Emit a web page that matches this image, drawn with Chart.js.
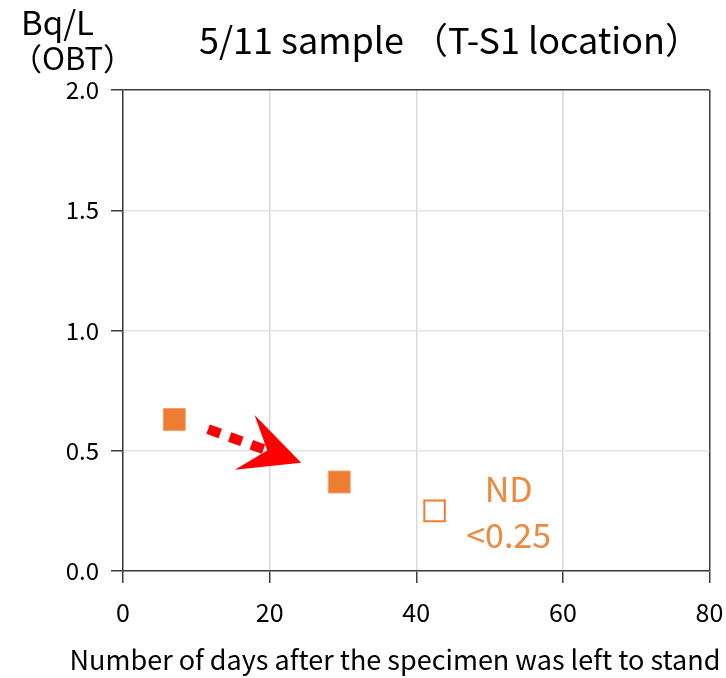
<!DOCTYPE html>
<html>
<head>
<meta charset="utf-8">
<script src="https://cdn.jsdelivr.net/npm/chart.js@4/dist/chart.umd.min.js"></script>
<style>
  html, body { margin: 0; padding: 0; background: #fff; }
  #wrap { width: 726px; height: 678px; position: relative; }
</style>
</head>
<body>
<div id="wrap"><canvas id="c" width="726" height="678"></canvas></div>
<script>
// ---- data ----
const titleText = "5/11 sample （T-S1 location）";
const yUnitLines = ["Bq/L", "（OBT）"];
const xAxisTitle = "Number of days after the specimen was left to stand";
const measuredDays = [7, 29.5];
const measuredValues = [0.63, 0.37];
const ndDays = [42.5];
const ndValues = [0.25];
const ndLabelLines = ["ND", "<0.25"];
const ndLabelPos = { x: 52.6, y: [0.34, 0.15] };
const arrowStart = { x: 11.6, y: 0.59 };
const arrowEnd = { x: 24.3, y: 0.45 };
const xMin = 0, xMax = 80, xStep = 20;
const yMin = 0, yMax = 2, yStep = 0.5;

const FONT = "'Noto Sans CJK JP', 'Noto Sans', sans-serif";
const ORANGE = '#ED7D31';
const AXIS = '#3c3c3c';

const overlay = {
  id: 'overlay',
  afterDatasetsDraw(chart) {
    const ctx = chart.ctx;
    const xs = chart.scales.x, ys = chart.scales.y;
    // arrow
    const sx = xs.getPixelForValue(arrowStart.x), sy = ys.getPixelForValue(arrowStart.y);
    const tx = xs.getPixelForValue(arrowEnd.x), ty = ys.getPixelForValue(arrowEnd.y);
    const ang = Math.atan2(ty - sy, tx - sx);
    const ux = Math.cos(ang), uy = Math.sin(ang), px = -uy, py = ux;
    const headLen = 60, halfW = 29, notch = 36;
    const nx = tx - ux * notch, ny = ty - uy * notch;
    ctx.save();
    ctx.strokeStyle = '#FF0000';
    ctx.lineWidth = 10;
    ctx.setLineDash([13, 10]);
    ctx.lineCap = 'butt';
    ctx.beginPath();
    ctx.moveTo(sx, sy);
    ctx.lineTo(nx + ux * 4, ny + uy * 4);
    ctx.stroke();
    ctx.setLineDash([]);
    ctx.fillStyle = '#FF0000';
    ctx.beginPath();
    ctx.moveTo(tx, ty);
    ctx.lineTo(tx - ux * headLen - px * halfW, ty - uy * headLen - py * halfW);
    ctx.lineTo(nx, ny);
    ctx.lineTo(tx - ux * headLen + px * halfW, ty - uy * headLen + py * halfW);
    ctx.closePath();
    ctx.fill();
    // ND label
    ctx.fillStyle = '#F0883E';
    ctx.font = '34px ' + FONT;
    ctx.textAlign = 'center';
    ctx.textBaseline = 'middle';
    const lx = xs.getPixelForValue(ndLabelPos.x);
    ndLabelLines.forEach((t, i) => ctx.fillText(t, lx, ys.getPixelForValue(ndLabelPos.y[i])));
    // title
    ctx.fillStyle = '#000';
    ctx.font = '36px ' + FONT;
    ctx.textAlign = 'center';
    ctx.fillText(titleText, 450, 40);
    // y unit
    ctx.textAlign = 'left';
    ctx.font = '33px ' + FONT;
    ctx.fillText(yUnitLines[0], 21, 22);
    ctx.font = '31px ' + FONT;
    ctx.fillText(yUnitLines[1], 11, 58);
    // x axis title
    ctx.font = '27px ' + FONT;
    ctx.textAlign = 'center';
    ctx.fillText(xAxisTitle, 395, 660);
    ctx.restore();
  }
};

new Chart(document.getElementById('c'), {
  type: 'scatter',
  data: {
    datasets: [
      {
        data: measuredDays.map((d, i) => ({ x: d, y: measuredValues[i] })),
        pointStyle: 'rect', pointRadius: 15.5, pointHoverRadius: 15.5,
        backgroundColor: ORANGE, borderColor: '#F3A06A', borderWidth: 1
      },
      {
        data: ndDays.map((d, i) => ({ x: d, y: ndValues[i] })),
        pointStyle: 'rect', pointRadius: 14.5, pointHoverRadius: 14.5,
        backgroundColor: '#fff', borderColor: ORANGE, borderWidth: 2
      }
    ]
  },
  options: {
    responsive: false,
    animation: false,
    layout: { padding: { top: 90, right: 14, left: 0, bottom: 0 } },
    plugins: { legend: { display: false }, tooltip: { enabled: false }, title: { display: false } },
    scales: {
      x: {
        type: 'linear', min: xMin, max: xMax,
        afterFit(s) { s.height = 107; s.paddingRight = 0; s.paddingLeft = 0; },
        ticks: { stepSize: xStep, color: '#000', padding: 14, font: { family: FONT, size: 25 } },
        grid: {
          color: c => (c.tick && (c.tick.value === xMax)) ? AXIS : '#d9d9d9',
          lineWidth: 1.5,
          tickColor: AXIS, tickLength: 12
        },
        border: { color: AXIS, width: 1.5 }
      },
      y: {
        type: 'linear', min: yMin, max: yMax,
        afterFit(s) { s.width = 123; s.paddingTop = 0; s.paddingBottom = 0; },
        ticks: { stepSize: yStep, color: '#000', padding: 12, font: { family: FONT, size: 24 }, callback: v => v.toFixed(1) },
        grid: {
          color: c => (c.tick && (c.tick.value === yMax)) ? AXIS : '#e3e3e3',
          lineWidth: 1.5,
          tickColor: AXIS, tickLength: 12
        },
        border: { color: AXIS, width: 1.5 }
      }
    }
  },
  plugins: [overlay]
});
</script>
</body>
</html>
